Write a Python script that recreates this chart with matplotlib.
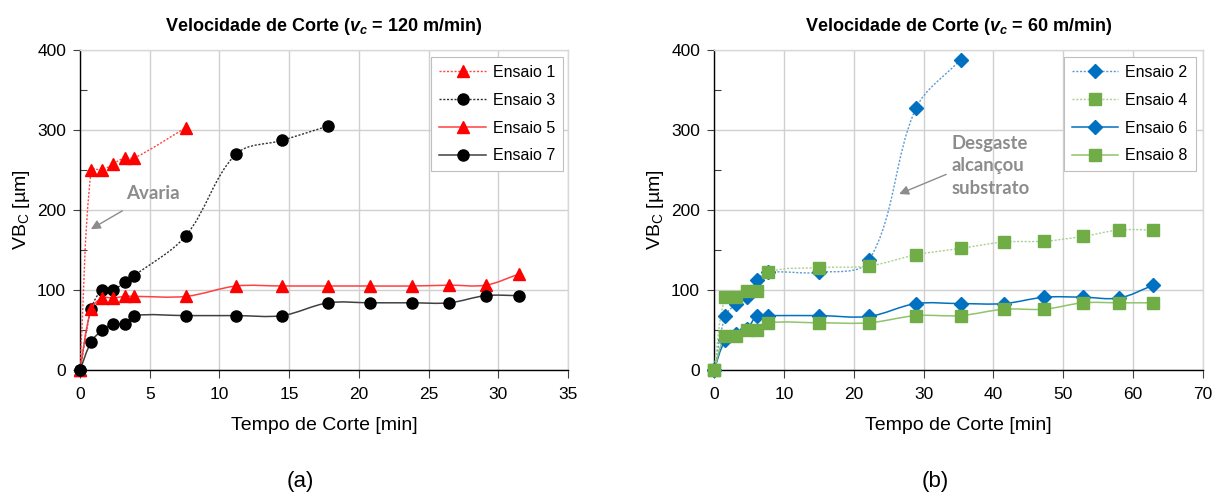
import numpy as np
import matplotlib
matplotlib.use("Agg")
import matplotlib.pyplot as plt
from matplotlib.path import Path
from matplotlib.patches import PathPatch
from matplotlib.lines import Line2D
from matplotlib.ticker import MultipleLocator

plt.rcParams['font.family'] = ['Liberation Sans', 'DejaVu Sans']
plt.rcParams['mathtext.fontset'] = 'custom'
plt.rcParams['mathtext.it'] = 'Liberation Sans:italic:bold'
plt.rcParams['mathtext.rm'] = 'Liberation Sans'
plt.rcParams['mathtext.bf'] = 'Liberation Sans:bold'

# ---------------- data: vc = 120 m/min ----------------
t1 = [0, 0.8, 1.6, 2.4, 3.2, 3.9, 7.6]
e1 = [0, 250, 250, 258, 265, 265, 303]
t3 = [0, 0.8, 1.6, 2.4, 3.2, 3.9, 7.6, 11.2, 14.5, 17.8]
e3 = [0, 76, 100, 100, 110, 118, 168, 270, 287, 305]
t5 = [0, 0.8, 1.6, 2.4, 3.2, 3.9, 7.6, 11.2, 14.5, 17.8, 20.8, 23.8, 26.5, 29.1, 31.5]
e5 = [0, 76, 90, 90, 92, 92, 92, 105, 105, 105, 105, 105, 106, 106, 120]
t7 = [0, 0.8, 1.6, 2.4, 3.2, 3.9, 7.6, 11.2, 14.5, 17.8, 20.8, 23.8, 26.5, 29.1, 31.5]
e7 = [0, 35, 50, 58, 58, 68, 68, 68, 68, 84, 84, 84, 84, 93, 93]

# ---------------- data: vc = 60 m/min ----------------
t2 = [0, 1.6, 3.2, 4.7, 6.2, 7.8, 15.1, 22.2, 28.9, 35.3]
e2 = [0, 67, 83, 91, 113, 122, 122, 137, 327, 388]
t4 = [0, 1.6, 3.2, 4.7, 6.2, 7.8, 15.1, 22.2, 28.9, 35.3, 41.5, 47.3, 52.8, 58.0, 62.9]
e4 = [0, 91, 91, 99, 99, 122, 128, 130, 144, 152, 160, 161, 167, 175, 175]
t6 = [0, 1.6, 3.2, 4.7, 6.2, 7.8, 15.1, 22.2, 28.9, 35.3, 41.5, 47.3, 52.8, 58.0, 62.9]
e6 = [0, 37, 45, 51, 68, 68, 68, 67, 83, 83, 83, 91, 91, 90, 106]
t8 = [0, 1.6, 3.2, 4.7, 6.2, 7.8, 15.1, 22.2, 28.9, 35.3, 41.5, 47.3, 52.8, 58.0, 62.9]
e8 = [0, 42, 42, 50, 50, 59, 59, 59, 68, 68, 76, 76, 84, 84, 84]

labels_a = ["Ensaio 1", "Ensaio 3", "Ensaio 5", "Ensaio 7"]
labels_b = ["Ensaio 2", "Ensaio 4", "Ensaio 6", "Ensaio 8"]


def smooth_path(ax, x, y):
    """Excel-like smoothed line: cubic Bezier through the data points, with
    tangents computed in screen space and handles scaled by segment length."""
    tr = ax.transData
    P = tr.transform(np.column_stack([x, y]).astype(float))
    n = len(P)
    T = []
    for i in range(n):
        a = P[i - 1] if i > 0 else P[i]
        b = P[i + 1] if i < n - 1 else P[i]
        d = b - a
        nd = np.hypot(*d)
        T.append(d / nd if nd > 0 else d)
    verts = [P[0]]
    codes = [Path.MOVETO]
    for i in range(n - 1):
        L = np.hypot(*(P[i + 1] - P[i]))
        c1 = P[i] + T[i] * L / 3.0
        c2 = P[i + 1] - T[i + 1] * L / 3.0
        verts += [c1, c2, P[i + 1]]
        codes += [Path.CURVE4] * 3
    verts = tr.inverted().transform(np.array(verts))
    return Path(verts, codes)


def series(ax, x, y, lcolor, ls, lw, marker, mcolor, ms, z):
    patch = PathPatch(smooth_path(ax, x, y), facecolor='none', edgecolor=lcolor,
                      linestyle=ls, linewidth=lw, zorder=z, transform=ax.transData)
    ax.add_patch(patch)
    ax.plot(x, y, linestyle='none', marker=marker, color=mcolor, markersize=ms,
            markeredgecolor=mcolor, zorder=z + 0.5, clip_on=False)
    return Line2D([], [], color=lcolor, linestyle=ls, linewidth=lw, marker=marker,
                  markersize=ms, markerfacecolor=mcolor, markeredgecolor=mcolor)


def style_axes(ax, xmax, xstep):
    ax.set_xlim(0, xmax)
    ax.set_ylim(0, 400)
    ax.xaxis.set_major_locator(MultipleLocator(xstep))
    ax.yaxis.set_major_locator(MultipleLocator(100))
    ax.yaxis.set_minor_locator(MultipleLocator(50))
    ax.grid(True, which='major', color='#d0d0d0', linewidth=1.0)
    ax.set_axisbelow(True)
    for s in ['top', 'right']:
        ax.spines[s].set_color('#d9d9d9')
        ax.spines[s].set_linewidth(1.0)
    for s in ['left', 'bottom']:
        ax.spines[s].set_color('#000000')
        ax.spines[s].set_linewidth(1.0)
    ax.tick_params(axis='both', which='major', direction='out', length=5, width=0.8,
                   labelsize=12.5, color='#404040')
    ax.tick_params(axis='x', which='major', pad=6, length=6)
    ax.tick_params(axis='y', which='major', pad=5)
    ax.tick_params(axis='y', which='minor', direction='in', length=5, width=0.8,
                   color='#404040')
    ax.set_xlabel("Tempo de Corte [min]", fontsize=14, labelpad=11)
    ax.set_ylabel(r"VB$_\mathrm{C}$ [µm]", fontsize=14, labelpad=4)


fig = plt.figure(figsize=(12.2, 4.95), dpi=100)
ax1 = fig.add_axes([80 / 1220, 125 / 495, 488 / 1220, 320 / 495])
ax2 = fig.add_axes([714 / 1220, 125 / 495, 489 / 1220, 320 / 495])

leg_kw = dict(loc='upper right', borderaxespad=0, fontsize=11.5,
              fancybox=False, edgecolor='#bfbfbf', framealpha=1,
              handlelength=2.9, labelspacing=0.8, borderpad=0.5,
              handletextpad=0.45)

# ---- left panel ----
style_axes(ax1, 35, 5)
h1 = series(ax1, t1, e1, '#ff4545', (0, (1.5, 1.2)), 1.0, '^', '#ff0000', 9, 3)
h3 = series(ax1, t3, e3, '#303030', (0, (1.5, 1.2)), 1.0, 'o', '#000000', 8, 3)
h5 = series(ax1, t5, e5, '#ff4040', '-', 1.1, '^', '#ff0000', 9, 4)
h7 = series(ax1, t7, e7, '#404040', '-', 1.1, 'o', '#000000', 8, 4)
ax1.set_title(r"Velocidade de Corte ($v_c$ = 120 m/min)", fontsize=13,
              fontweight='bold', pad=14)
leg1 = ax1.legend([h1, h3, h5, h7], labels_a, bbox_to_anchor=(0.99, 0.978), **leg_kw)
leg1.get_frame().set_linewidth(0.8)
ax1.annotate("Avaria", xy=(0.78, 176), xytext=(5.2, 221),
             fontsize=13.5, fontweight='bold', color='#8c8c8c',
             family=['Lato', 'DejaVu Sans'], ha='center', va='center',
             arrowprops=dict(arrowstyle='-|>', color='#8c8c8c', lw=1.0,
                             shrinkA=9, shrinkB=0, mutation_scale=14), zorder=6)

# ---- right panel ----
style_axes(ax2, 70, 10)
h2 = series(ax2, t2, e2, '#5b9bd5', (0, (1.5, 1.2)), 1.0, 'D', '#0070c0', 7, 3)
h4 = series(ax2, t4, e4, '#a9d18e', (0, (1.5, 1.2)), 1.0, 's', '#70ad47', 8, 3)
h6 = series(ax2, t6, e6, '#0070c0', '-', 1.1, 'D', '#0070c0', 7, 4)
h8 = series(ax2, t8, e8, '#8fc46a', '-', 1.1, 's', '#70ad47', 8, 4)
ax2.set_title(r"Velocidade de Corte ($v_c$ = 60 m/min)", fontsize=13,
              fontweight='bold', pad=14)
leg2 = ax2.legend([h2, h4, h6, h8], labels_b, bbox_to_anchor=(0.985, 0.978), **leg_kw)
leg2.get_frame().set_linewidth(0.8)
ax2.annotate("Desgaste\nalcançou\nsubstrato", xy=(26.5, 220), xytext=(34.0, 255),
             fontsize=13.3, fontweight='bold', color='#8c8c8c',
             family=['Lato', 'DejaVu Sans'], ha='left', va='center',
             linespacing=1.38,
             arrowprops=dict(arrowstyle='-|>', color='#8c8c8c', lw=1.0,
                             shrinkA=2, shrinkB=0, mutation_scale=14,
                             relpos=(0, 0.4)), zorder=6)

fig.text(300 / 1220, 1 - 482 / 495, "(a)", fontsize=16, ha='center', va='center')
fig.text(935 / 1220, 1 - 482 / 495, "(b)", fontsize=16, ha='center', va='center')

fig.savefig("out.png", dpi=100)
